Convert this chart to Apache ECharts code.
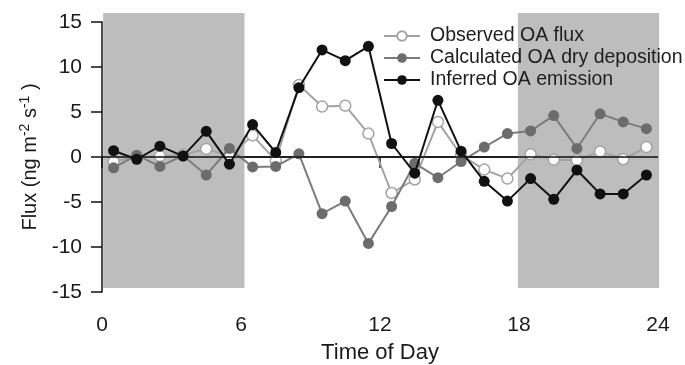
<!DOCTYPE html>
<html>
<head>
<meta charset="utf-8">
<script src="https://cdn.jsdelivr.net/npm/echarts@6/dist/echarts.min.js"></script>
<style>
  html, body { margin: 0; padding: 0; background: #fff; }
  #chart { width: 685px; height: 365px; }
</style>
</head>
<body>
<div id="chart"></div>
<script>
// hour of day (mid-hour)
const hours = [0.5, 1.5, 2.5, 3.5, 4.5, 5.5, 6.5, 7.5, 8.5, 9.5, 10.5, 11.5,
  12.5, 13.5, 14.5, 15.5, 16.5, 17.5, 18.5, 19.5, 20.5, 21.5, 22.5, 23.5]

const observed = [-0.5, 0.0, 0.1, 0.25, 0.9, 0.15, 2.4, -0.4, 8.0, 5.6, 5.7, 2.6,
  -4.0, -2.5, 3.9, 0.2, -1.4, -2.4, 0.3, -0.3, -0.35, 0.6, -0.25, 1.1]
const calculated = [-1.2, 0.2, -1.05, 0.15, -2.0, 0.95, -1.1, -1.05, 0.35, -6.3, -4.9, -9.6,
  -5.5, -0.7, -2.3, -0.5, 1.1, 2.6, 2.9, 4.6, 0.95, 4.8, 3.9, 3.15]
const inferred = [0.7, -0.25, 1.2, 0.1, 2.85, -0.8, 3.6, 0.5, 7.7, 11.9, 10.7, 12.3,
  1.5, -1.8, 6.3, 0.65, -2.7, -4.9, -2.4, -4.7, -1.45, -4.1, -4.1, -2.0]

const xTicks = [0, 6, 12, 18, 24]
const yTicks = [-15, -10, -5, 0, 5, 10, 15]
// night-time shading: [start hour, end hour, bottom, top]
const nightSpans = [[0.05, 6.15, -14.55, 16.0], [17.95, 24.05, -14.55, 16.0]]

const seriesNames = ['Observed OA flux', 'Calculated OA dry deposition', 'Inferred OA emission']

const FONT = 'Liberation Sans, Arial, sans-serif'
const pair = (xs, ys) => xs.map((x, i) => [x, ys[i]])

const chart = echarts.init(document.getElementById('chart'), null, { renderer: 'canvas' })

chart.setOption({
  animation: false,
  backgroundColor: '#fff',
  textStyle: { fontFamily: FONT },
  // fixed plot box, don't let v6 shrink it to fit the labels
  grid: { left: 102, right: 27, top: 22, bottom: 73, outerBoundsMode: 'none', containLabel: false },
  legend: {
    data: seriesNames,
    orient: 'vertical',
    left: 383, top: 26, padding: 0,
    itemWidth: 36, itemHeight: 12, itemGap: 2,
    textStyle: { fontSize: 19.5, color: '#1e1e1e', fontFamily: FONT, padding: [0, 0, 0, 5] },
  },
  xAxis: {
    type: 'value',
    min: xTicks[0], max: xTicks[xTicks.length - 1], interval: 6,
    name: 'Time of Day',
    nameLocation: 'middle', nameGap: 50,
    nameTextStyle: { fontSize: 22, color: '#1a1a1a' },
    axisLine: { lineStyle: { color: '#111', width: 1.5 } },
    axisTick: { inside: false, length: 11, lineStyle: { color: '#111', width: 1.5 } },
    axisLabel: { fontSize: 21, color: '#1a1a1a', margin: 23 },
    splitLine: { show: false },
  },
  yAxis: {
    type: 'value',
    min: yTicks[0], max: yTicks[yTicks.length - 1], interval: 5,
    name: 'Flux (ng m{sup|-2} s{sup|-1} )',
    nameLocation: 'middle', nameGap: 54, nameRotate: 90,
    nameTextStyle: {
      fontSize: 20, color: '#1a1a1a', verticalAlign: 'bottom',
      rich: { sup: { fontSize: 14, color: '#1a1a1a', padding: [0, 0, 11, 0], verticalAlign: 'bottom' } },
    },
    axisLine: { show: true, lineStyle: { color: '#111', width: 1.5 } },
    axisTick: { show: true, inside: false, length: 11, lineStyle: { color: '#111', width: 1.5 } },
    axisLabel: { fontSize: 21, color: '#1a1a1a', margin: 20 },
    splitLine: { show: false },
  },
  series: [
    {
      // night shading, reaches a little past the top of the axis
      type: 'custom', z: 1, silent: true, clip: false,
      data: nightSpans,
      encode: { x: [0, 1], y: [2, 3] },
      renderItem: (params, api) => {
        const p0 = api.coord([api.value(0), api.value(3)])
        const p1 = api.coord([api.value(1), api.value(2)])
        return {
          type: 'rect',
          shape: { x: p0[0], y: p0[1], width: p1[0] - p0[0], height: p1[1] - p0[1] },
          style: { fill: '#bdbdbd' },
        }
      },
      markLine: {
        silent: true, symbol: 'none',
        label: { show: false },
        lineStyle: { color: '#111', width: 1.5, type: 'solid' },
        data: [{ yAxis: 0 }],
      },
    },
    {
      name: seriesNames[0], type: 'line', z: 3,
      data: pair(hours, observed),
      symbol: 'circle', symbolSize: 11,
      lineStyle: { color: '#a3a3a3', width: 2 },
      itemStyle: { color: '#fff', borderColor: '#a3a3a3', borderWidth: 1.5 },
    },
    {
      name: seriesNames[1], type: 'line', z: 4,
      data: pair(hours, calculated),
      symbol: 'circle', symbolSize: 11,
      lineStyle: { color: '#7c7c7c', width: 2 },
      itemStyle: { color: '#6c6c6c' },
    },
    {
      name: seriesNames[2], type: 'line', z: 5,
      data: pair(hours, inferred),
      symbol: 'circle', symbolSize: 11,
      lineStyle: { color: '#111', width: 2 },
      itemStyle: { color: '#111' },
    },
  ],
})
</script>
</body>
</html>
